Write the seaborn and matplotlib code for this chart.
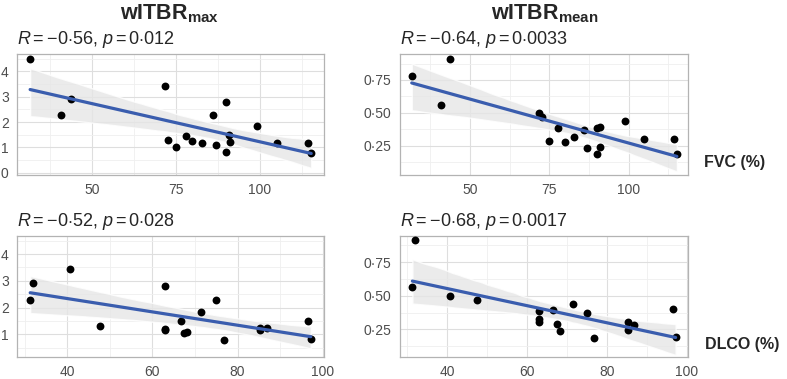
import numpy as np
import pandas as pd
import matplotlib
matplotlib.use("Agg")
import matplotlib.pyplot as plt
import seaborn as sns
from matplotlib.ticker import FuncFormatter, MultipleLocator

# DATA
fvc = [31.7, 40.8, 43.7, 71.8, 72.8, 75.0, 77.9, 79.9, 82.9, 85.9,
       86.9, 89.9, 89.9, 90.9, 91.0, 99.0, 105.0, 114.2, 115.2]
wmax_fvc = [4.48, 2.29, 2.90, 3.44, 1.29, 1.03, 1.46, 1.24, 1.17, 2.27,
            1.08, 2.79, 0.82, 1.49, 1.21, 1.85, 1.16, 1.19, 0.78]
wmean_fvc = [0.778, 0.558, 0.907, 0.498, 0.472, 0.288, 0.389, 0.280, 0.320, 0.369,
             0.235, 0.384, 0.192, 0.396, 0.245, 0.439, 0.300, 0.303, 0.190]

dlco = [31.3, 31.9, 40.7, 47.6, 62.9, 62.9, 62.9, 66.6, 67.5, 68.2,
        71.4, 74.9, 76.8, 85.3, 85.3, 86.9, 96.6, 97.2]
wmax_dlco = [2.30, 2.92, 3.45, 1.30, 2.79, 1.20, 1.17, 1.48, 1.03, 1.10,
             1.85, 2.29, 0.80, 1.16, 1.22, 1.25, 1.50, 0.84]
wmean_dlco = [0.565, 0.912, 0.500, 0.470, 0.388, 0.325, 0.305, 0.395, 0.290, 0.235,
              0.440, 0.370, 0.190, 0.302, 0.245, 0.285, 0.400, 0.195]

stat_labels = ["$R = -0{\\cdot}56$, $p = 0{\\cdot}012$",
               "$R = -0{\\cdot}64$, $p = 0{\\cdot}0033$",
               "$R = -0{\\cdot}52$, $p = 0{\\cdot}028$",
               "$R = -0{\\cdot}68$, $p = 0{\\cdot}0017$"]

df_fvc = pd.DataFrame({"x": fvc, "wmax": wmax_fvc, "wmean": wmean_fvc})
df_dlco = pd.DataFrame({"x": dlco, "wmax": wmax_dlco, "wmean": wmean_dlco})

sns.set_style("white")
plt.rcParams["font.family"] = ["Liberation Sans", "DejaVu Sans"]
plt.rcParams["mathtext.fontset"] = "custom"
plt.rcParams["mathtext.rm"] = "Liberation Sans"
plt.rcParams["mathtext.it"] = "Liberation Sans:italic"
plt.rcParams["mathtext.bf"] = "Liberation Sans:bold"

W, H = 787, 379
fig = plt.figure(figsize=(W / 100, H / 100), dpi=100)


def rect(l, t, r, b):
    return [l / W, 1 - b / H, (r - l) / W, (b - t) / H]


def dot(v, pos):
    s = f"{v:g}" if v >= 1 or v == 0 else f"{v:.2f}"
    return s.replace(".", "·")


panels = [
    (rect(17, 54, 324, 175), df_fvc, "wmax", (27.8, 119), (-0.09, 4.69), 25, 1, 0),
    (rect(400, 54, 688, 175), df_fvc, "wmean", (28.0, 118.7), (0.03, 0.947), 25, 0.25, 1),
    (rect(17, 236, 324, 357), df_dlco, "wmax", (28.2, 100.3), (0.147, 4.68), 20, 1, 2),
    (rect(400, 236, 688, 357), df_dlco, "wmean", (28.2, 100.3), (0.045, 0.945), 20, 0.25, 3),
]

for r, d, col, xl, yl, xstep, ystep, i in panels:
    ax = fig.add_axes(r)
    sns.regplot(data=d, x="x", y=col, ax=ax, ci=95, seed=3, truncate=True,
                scatter_kws=dict(s=32, color="black", alpha=1, linewidths=0, zorder=3),
                line_kws=dict(color="#3A5DAE", lw=2.3, zorder=4))
    # lighter ribbon like ggplot
    for poly in ax.collections[1:]:
        poly.set_facecolor("#E6E6E6")
        poly.set_alpha(0.8)
    ax.set_xlim(*xl)
    ax.set_ylim(*yl)
    ax.xaxis.set_major_locator(MultipleLocator(xstep))
    ax.xaxis.set_minor_locator(MultipleLocator(xstep / 2))
    ax.yaxis.set_major_locator(MultipleLocator(ystep))
    ax.yaxis.set_minor_locator(MultipleLocator(ystep / 2))
    ax.yaxis.set_major_formatter(FuncFormatter(dot))
    ax.xaxis.set_major_formatter(FuncFormatter(dot))
    ax.grid(which="major", color="#DEDEDE", lw=0.8)
    ax.grid(which="minor", color="#EFEFEF", lw=0.6)
    ax.set_axisbelow(True)
    for s in ax.spines.values():
        s.set_color("#B3B3B3")
        s.set_linewidth(0.9)
    ax.tick_params(which="major", length=3, width=0.6, color="#B3B3B3",
                   labelsize=10, labelcolor="#4D4D4D", pad=3)
    ax.tick_params(which="minor", length=0)
    ax.set_xlabel("")
    ax.set_ylabel("")
    ax.text(0, 1.03, stat_labels[i], transform=ax.transAxes, fontsize=13,
            ha="left", va="bottom")

fig.text(170 / W, 1 - 19 / H, "wITBR$_{\\mathbf{max}}$", fontsize=15.5, fontweight="bold",
         ha="center", va="baseline")
fig.text(545 / W, 1 - 19 / H, "wITBR$_{\\mathbf{mean}}$", fontsize=15.5, fontweight="bold",
         ha="center", va="baseline")
fig.text(704 / W, 1 - 163 / H, "FVC (%)", fontsize=11.5, fontweight="bold",
         ha="left", va="center")
fig.text(705 / W, 1 - 345 / H, "DLCO (%)", fontsize=11.5, fontweight="bold",
         ha="left", va="center")

fig.savefig("out.png", dpi=100)
